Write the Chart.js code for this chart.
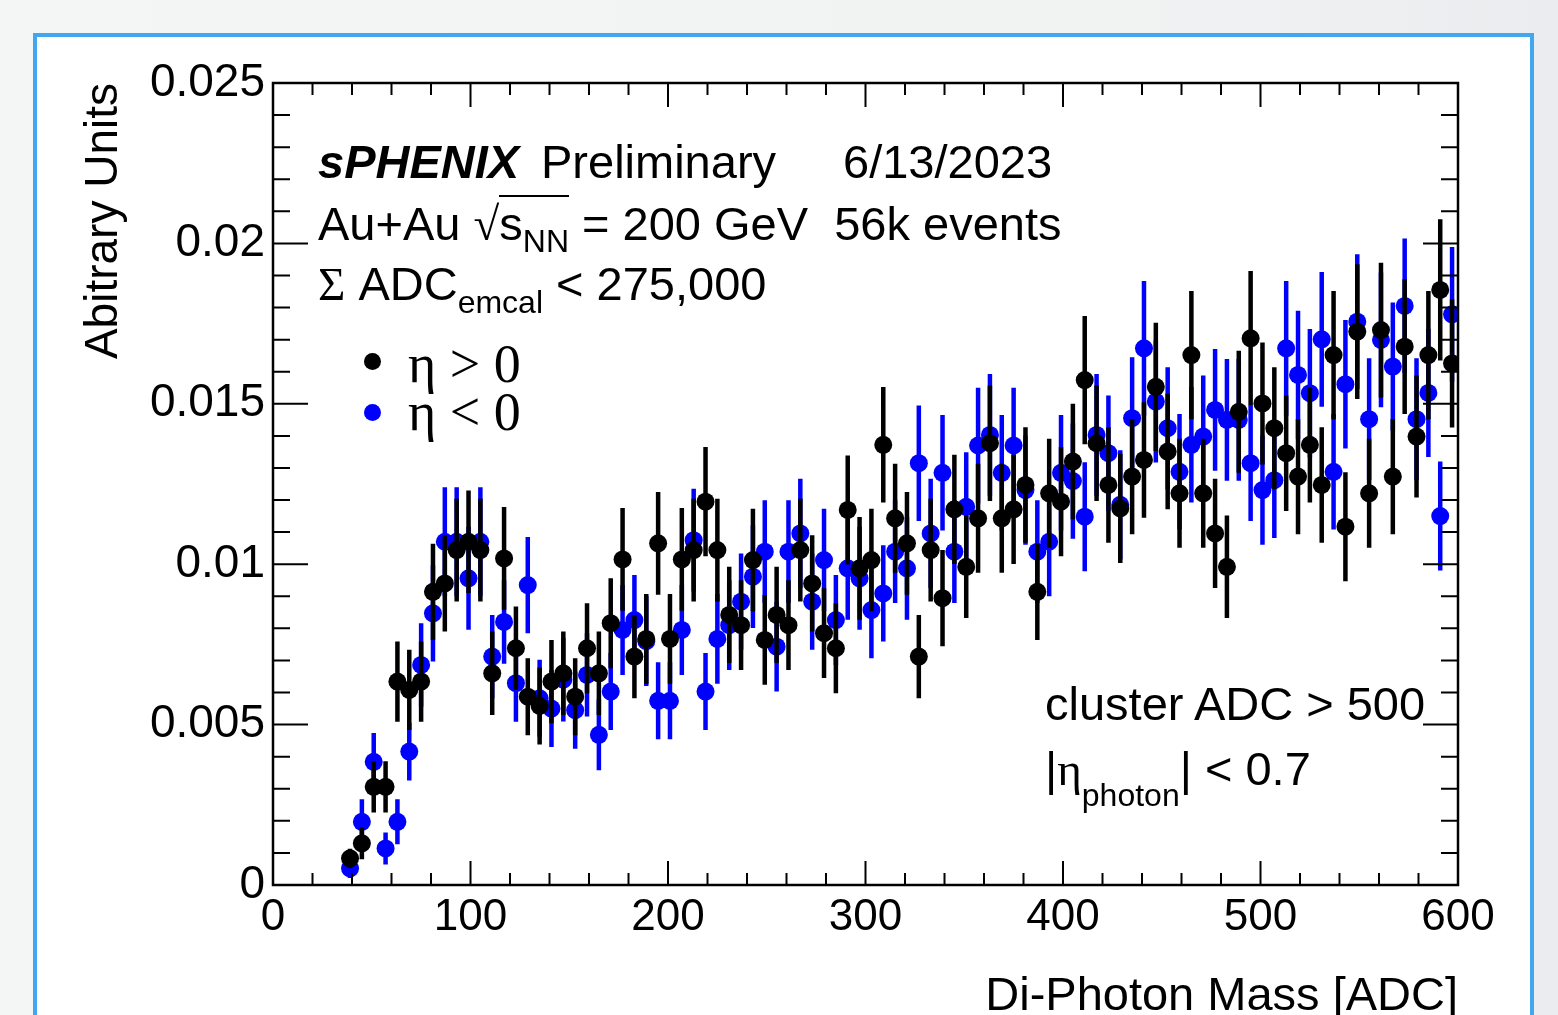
<!DOCTYPE html>
<html>
<head>
<meta charset="utf-8">
<script src="https://cdn.jsdelivr.net/npm/chart.js@4.4.1/dist/chart.umd.min.js"></script>
<style>
  html, body { margin: 0; padding: 0; }
  body {
    width: 1558px; height: 1015px; overflow: hidden; position: relative;
    background: linear-gradient(to right, #f4f6f6 0%, #f1f3f3 70%, #eaecef 100%);
  }
  .panel {
    position: absolute; left: 33px; top: 33px; width: 1501px; height: 1100px;
    box-sizing: border-box; background: #fff; border: 4px solid #42a7f1;
  }
  #plot { position: absolute; left: 0; top: 0; }
  .txt {
    position: absolute; white-space: nowrap; color: #000;
    font-family: 'Liberation Sans', Arial, Helvetica, sans-serif;
    font-size: 47px; line-height: 47px;
  }
  .serif { font-family: 'Liberation Serif', 'Times New Roman', serif; }
  .sub { font-size: 32px; position: relative; }
  .root { border-top: 2px solid #000; }
  .dot { position: absolute; width: 17px; height: 17px; border-radius: 50%; }
</style>
</head>
<body>
<div class="panel"></div>
<canvas id="plot" width="1558" height="1050"></canvas>

<!-- texts of the ROOT plot -->
<div class="txt" style="left:318px;top:138px;"><b><i>sPHENIX</i></b></div>
<div class="txt" style="left:541px;top:138px;">Preliminary</div>
<div class="txt" style="left:843px;top:138px;">6/13/2023</div>
<div class="txt" style="left:318px;top:200px;">Au+Au <span class="serif">√</span><span class="root">s<span class="sub" style="top:12px;">NN</span></span> = 200 GeV&nbsp;&nbsp;56k events</div>
<div class="txt" style="left:318px;top:260px;"><span class="serif">Σ</span> ADC<span class="sub" style="top:13px;">emcal</span> &lt; 275,000</div>

<div class="dot" style="left:364px;top:353px;background:#000;"></div>
<div class="txt serif" style="left:408px;top:337px;font-size:54px;line-height:54px;">η &gt; 0</div>
<div class="dot" style="left:364px;top:404px;background:#0000ff;"></div>
<div class="txt serif" style="left:408px;top:385px;font-size:54px;line-height:54px;">η &lt; 0</div>

<div class="txt" style="left:1045px;top:680px;">cluster ADC &gt; 500</div>
<div class="txt" style="left:1045px;top:745px;">|<span class="serif">η</span><span class="sub" style="top:21px;">photon</span>| &lt; 0.7</div>

<script>
// ── Histogram: di-photon mass, 6 ADC bins ─────────────
const massBins = [39, 45, 51, 57, 63, 69, 75, 81, 87, 93,
  99, 105, 111, 117, 123, 129, 135, 141, 147, 153,
  159, 165, 171, 177, 183, 189, 195, 201, 207, 213,
  219, 225, 231, 237, 243, 249, 255, 261, 267, 273,
  279, 285, 291, 297, 303, 309, 315, 321, 327, 333,
  339, 345, 351, 357, 363, 369, 375, 381, 387, 393,
  399, 405, 411, 417, 423, 429, 435, 441, 447, 453,
  459, 465, 471, 477, 483, 489, 495, 501, 507, 513,
  519, 525, 531, 537, 543, 549, 555, 561, 567, 573,
  579, 585, 591, 597];

// η > 0 (black)
const etaPosValues = [.00083, .0013, .00306, .00306, .00634, .00608, .00634, .00914, .0094, .01044,
  .0107, .01044, .0066, .01018, .00738, .00587, .00558, .00634, .0066, .00587,
  .00738, .0066, .00816, .01015, .00712, .00767, .01065, .00767, .01015, .01044,
  .01195, .01044, .00842, .0081, .01013, .00764, .00842, .0081, .01044, .0094,
  .00785, .00738, .01169, .00987, .01013, .01372, .01143, .01065, .00712, .01044,
  .00894, .01171, .00992, .01143, .01377, .01143, .01171, .01247, .00914, .01221,
  .01195, .0132, .01574, .01377, .01247, .01174, .01273, .01325, .01553, .01351,
  .01221, .01652, .01221, .01096, .00992, .01475, .01704, .01501, .01424, .01346,
  .01273, .01372, .01247, .01652, .01117, .01725, .01221, .0173, .01273, .01678,
  .01398, .01652, .01855, .01626];
const etaPosErrors = [.0003, .0005, .0008, .0008, .00125, .00125, .00125, .0015, .0015, .0016,
  .0016, .0016, .0013, .0016, .0013, .0012, .0012, .0013, .0013, .0012,
  .0014, .0013, .0014, .0016, .0013, .0014, .0016, .0014, .0016, .0016,
  .0017, .0016, .0015, .0014, .0016, .0014, .0015, .0014, .0016, .0015,
  .0014, .0014, .0017, .0016, .0016, .0018, .0017, .0016, .0013, .0016,
  .0015, .0017, .0016, .0017, .0018, .0017, .0017, .0018, .0015, .0017,
  .0017, .0018, .002, .0018, .0018, .0017, .0018, .0018, .002, .0018,
  .0017, .002, .0017, .0017, .0016, .0019, .0021, .0019, .0019, .0018,
  .0018, .0018, .0018, .002, .0017, .0021, .0017, .0021, .0018, .0021,
  .0019, .002, .0022, .002];

// η < 0 (blue)
const etaNegValues = [.00052, .00197, .00384, .00114, .00197, .00416, .00686, .00847, .0107, .0107,
  .00956, .0107, .00712, .0082, .00629, .00935, .00582, .0055, .0064, .00545,
  .00655, .00468, .00603, .00795, .00826, .0076, .00574, .00574, .00795, .01075,
  .00603, .00767, .0081, .00883, .00961, .01039, .00743, .01039, .01096, .00883,
  .01013, .00826, .00987, .00956, .00857, .00909, .01039, .00987, .01315, .01096,
  .01285, .01039, .01179, .0137, .01403, .01285, .0137, .01231, .01039, .0107,
  .01285, .01259, .01148, .01403, .01346, .01185, .01455, .01673, .01507, .01424,
  .01288, .01372, .01398, .01481, .0145, .0145, .01315, .01231, .01262, .01673,
  .0159, .01533, .01701, .01288, .01561, .01756, .01452, .01699, .01616, .01805,
  .01452, .01534, .0115, .01779];
const etaNegErrors = [.0003, .0007, .0009, .0005, .0007, .0009, .0013, .0015, .0017, .0017,
  .0016, .0017, .0013, .0013, .0012, .0015, .0012, .0012, .0013, .0012,
  .0013, .0011, .0012, .0014, .0014, .0014, .0012, .0012, .0014, .0016,
  .0012, .0014, .0014, .0015, .0016, .0016, .0014, .0016, .0017, .0015,
  .0016, .0014, .0016, .0016, .0015, .0015, .0016, .0016, .0018, .0017,
  .0018, .0016, .0017, .0018, .0019, .0018, .0018, .0017, .0016, .0017,
  .0018, .0018, .0017, .0019, .0018, .0017, .0019, .0021, .0019, .0019,
  .0018, .0018, .0019, .0019, .0019, .0019, .0018, .0017, .0018, .0021,
  .002, .002, .0021, .0018, .002, .0021, .0019, .0021, .002, .0021,
  .0019, .002, .0017, .0021];

const seriesLabels = ['η > 0', 'η < 0'];
const xTicks = [0, 100, 200, 300, 400, 500, 600];
const yTicks = [0, 0.005, 0.01, 0.015, 0.02, 0.025];

const FONT = "'Liberation Sans', Arial, Helvetica, sans-serif";

// ── vertical error bars, drawn under each dataset's markers ──
const errorBars = {
  id: 'errorBars',
  beforeDatasetDraw(chart, args) {
    const ds = chart.data.datasets[args.index];
    if (!ds.errors) return;
    const { ctx, chartArea: a, scales: { x, y } } = chart;
    ctx.save();
    ctx.beginPath();
    ctx.rect(a.left, a.top, a.right - a.left, a.bottom - a.top);
    ctx.clip();
    ctx.strokeStyle = ds.backgroundColor;
    ctx.lineWidth = 4.5;
    ctx.beginPath();
    ds.data.forEach((p, i) => {
      const px = x.getPixelForValue(p.x);
      ctx.moveTo(px, y.getPixelForValue(p.y - ds.errors[i]));
      ctx.lineTo(px, y.getPixelForValue(p.y + ds.errors[i]));
    });
    ctx.stroke();
    ctx.restore();
  },
};

// ── ROOT-style frame with inward ticks on all four sides ──
const rootFrame = {
  id: 'rootFrame',
  afterDatasetsDraw(chart) {
    const { ctx, chartArea: a, scales: { x, y } } = chart;
    ctx.save();
    ctx.strokeStyle = '#000';
    ctx.lineWidth = 2;
    ctx.beginPath();
    // x: minor every 20, major every 100
    for (let i = 0; i <= 30; i++) {
      const px = x.getPixelForValue(i * 20);
      const len = i % 5 === 0 ? 24 : 12;
      ctx.moveTo(px, a.bottom); ctx.lineTo(px, a.bottom - len);
      ctx.moveTo(px, a.top); ctx.lineTo(px, a.top + len);
    }
    // y: minor every 0.001, major every 0.005
    for (let i = 0; i <= 25; i++) {
      const py = y.getPixelForValue(i * 0.001);
      const len = i % 5 === 0 ? 35 : 17;
      ctx.moveTo(a.left, py); ctx.lineTo(a.left + len, py);
      ctx.moveTo(a.right, py); ctx.lineTo(a.right - len, py);
    }
    ctx.stroke();
    ctx.lineWidth = 2.5;
    ctx.strokeRect(a.left, a.top, a.right - a.left, a.bottom - a.top);
    ctx.restore();
  },
};

function toPoints(values) {
  return massBins.map((m, i) => ({ x: m, y: values[i] }));
}

new Chart(document.getElementById('plot'), {
  type: 'scatter',
  data: {
    datasets: [
      {
        label: seriesLabels[0],
        data: toPoints(etaPosValues),
        errors: etaPosErrors,
        backgroundColor: '#000000',
        borderWidth: 0,
        pointRadius: 9,
      },
      {
        label: seriesLabels[1],
        data: toPoints(etaNegValues),
        errors: etaNegErrors,
        backgroundColor: '#0000ff',
        borderWidth: 0,
        pointRadius: 9,
      },
    ],
  },
  options: {
    responsive: false,
    animation: false,
    layout: { padding: { left: 77, top: 83, right: 100, bottom: 0 } },
    plugins: { legend: { display: false }, tooltip: { enabled: false } },
    scales: {
      x: {
        type: 'linear',
        min: 0,
        max: 600,
        afterBuildTicks: (s) => { s.ticks = xTicks.map((v) => ({ value: v })); },
        afterFit: (s) => { s.height = 165; },
        grid: { display: false, drawTicks: false },
        border: { display: false },
        ticks: { color: '#000', font: { family: FONT, size: 44 }, padding: 6, maxRotation: 0 },
        title: {
          display: true,
          text: 'Di-Photon Mass [ADC]',
          align: 'end',
          color: '#000',
          font: { family: FONT, size: 47 },
          padding: { top: 0, bottom: 25 },
        },
      },
      y: {
        type: 'linear',
        min: 0,
        max: 0.025,
        afterBuildTicks: (s) => { s.ticks = yTicks.map((v) => ({ value: v })); },
        afterFit: (s) => { s.width = 196; },
        grid: { display: false, drawTicks: false },
        border: { display: false },
        ticks: {
          color: '#000',
          font: { family: FONT, size: 46 },
          padding: 8,
          callback: (v) => String(+v.toFixed(3)),
        },
        title: {
          display: true,
          text: 'Abitrary Units',
          align: 'end',
          color: '#000',
          font: { family: FONT, size: 46 },
          padding: { top: 0, bottom: 0 },
        },
      },
    },
  },
  plugins: [errorBars, rootFrame],
});
</script>
</body>
</html>
